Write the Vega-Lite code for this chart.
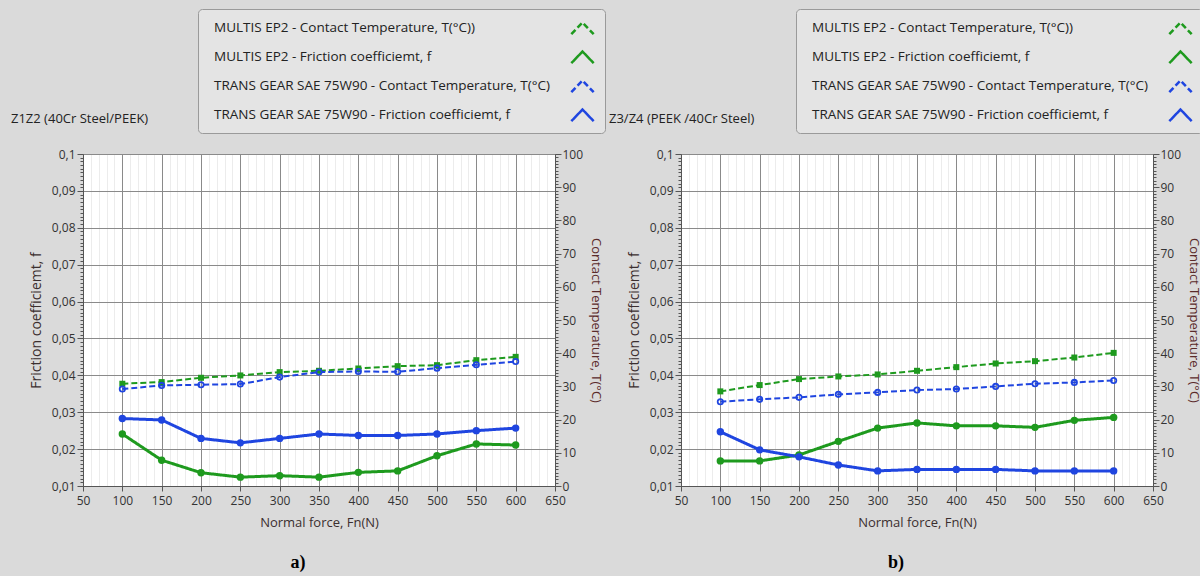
{
  "$schema": "https://vega.github.io/schema/vega-lite/v6.json",
  "background": "#dadada",
  "padding": {"left": 10, "top": 8, "right": 0, "bottom": 4},
  "config": {
    "view": {"fill": "white", "stroke": "#7a7a7a"},
    "font": "Open Sans",
    "axis": {"labelFont": "Open Sans", "labelFontSize": 12, "labelColor": "#333333", "titleFont": "Open Sans", "titleFontSize": 13, "titleFontWeight": "normal", "titleColor": "#3b2f2f", "domainColor": "#555555", "tickColor": "#555555", "labelOverlap": false, "labelFlush": false},
    "legend": {"labelLimit": 420}
  },
  "datasets": {
    "a": [
      {"x": 100, "s": "MULTIS EP2 - Contact Temperature, T(°C))", "v": 30.8},
      {"x": 150, "s": "MULTIS EP2 - Contact Temperature, T(°C))", "v": 31.3},
      {"x": 200, "s": "MULTIS EP2 - Contact Temperature, T(°C))", "v": 32.6},
      {"x": 250, "s": "MULTIS EP2 - Contact Temperature, T(°C))", "v": 33.3},
      {"x": 300, "s": "MULTIS EP2 - Contact Temperature, T(°C))", "v": 34.3},
      {"x": 350, "s": "MULTIS EP2 - Contact Temperature, T(°C))", "v": 34.7},
      {"x": 400, "s": "MULTIS EP2 - Contact Temperature, T(°C))", "v": 35.4},
      {"x": 450, "s": "MULTIS EP2 - Contact Temperature, T(°C))", "v": 36.1},
      {"x": 500, "s": "MULTIS EP2 - Contact Temperature, T(°C))", "v": 36.4},
      {"x": 550, "s": "MULTIS EP2 - Contact Temperature, T(°C))", "v": 37.9},
      {"x": 600, "s": "MULTIS EP2 - Contact Temperature, T(°C))", "v": 38.9},
      {"x": 100, "s": "MULTIS EP2 - Friction coefficiemt, f", "v": 0.0241},
      {"x": 150, "s": "MULTIS EP2 - Friction coefficiemt, f", "v": 0.0170},
      {"x": 200, "s": "MULTIS EP2 - Friction coefficiemt, f", "v": 0.0136},
      {"x": 250, "s": "MULTIS EP2 - Friction coefficiemt, f", "v": 0.0124},
      {"x": 300, "s": "MULTIS EP2 - Friction coefficiemt, f", "v": 0.0128},
      {"x": 350, "s": "MULTIS EP2 - Friction coefficiemt, f", "v": 0.0124},
      {"x": 400, "s": "MULTIS EP2 - Friction coefficiemt, f", "v": 0.0137},
      {"x": 450, "s": "MULTIS EP2 - Friction coefficiemt, f", "v": 0.0141},
      {"x": 500, "s": "MULTIS EP2 - Friction coefficiemt, f", "v": 0.0182},
      {"x": 550, "s": "MULTIS EP2 - Friction coefficiemt, f", "v": 0.0214},
      {"x": 600, "s": "MULTIS EP2 - Friction coefficiemt, f", "v": 0.0211},
      {"x": 100, "s": "TRANS GEAR SAE 75W90 - Contact Temperature, T(°C)", "v": 29.2},
      {"x": 150, "s": "TRANS GEAR SAE 75W90 - Contact Temperature, T(°C)", "v": 30.3},
      {"x": 200, "s": "TRANS GEAR SAE 75W90 - Contact Temperature, T(°C)", "v": 30.5},
      {"x": 250, "s": "TRANS GEAR SAE 75W90 - Contact Temperature, T(°C)", "v": 30.7},
      {"x": 300, "s": "TRANS GEAR SAE 75W90 - Contact Temperature, T(°C)", "v": 32.8},
      {"x": 350, "s": "TRANS GEAR SAE 75W90 - Contact Temperature, T(°C)", "v": 34.3},
      {"x": 400, "s": "TRANS GEAR SAE 75W90 - Contact Temperature, T(°C)", "v": 34.5},
      {"x": 450, "s": "TRANS GEAR SAE 75W90 - Contact Temperature, T(°C)", "v": 34.4},
      {"x": 500, "s": "TRANS GEAR SAE 75W90 - Contact Temperature, T(°C)", "v": 35.5},
      {"x": 550, "s": "TRANS GEAR SAE 75W90 - Contact Temperature, T(°C)", "v": 36.5},
      {"x": 600, "s": "TRANS GEAR SAE 75W90 - Contact Temperature, T(°C)", "v": 37.5},
      {"x": 100, "s": "TRANS GEAR SAE 75W90 - Friction coefficiemt, f", "v": 0.0283},
      {"x": 150, "s": "TRANS GEAR SAE 75W90 - Friction coefficiemt, f", "v": 0.0279},
      {"x": 200, "s": "TRANS GEAR SAE 75W90 - Friction coefficiemt, f", "v": 0.0229},
      {"x": 250, "s": "TRANS GEAR SAE 75W90 - Friction coefficiemt, f", "v": 0.0217},
      {"x": 300, "s": "TRANS GEAR SAE 75W90 - Friction coefficiemt, f", "v": 0.0229},
      {"x": 350, "s": "TRANS GEAR SAE 75W90 - Friction coefficiemt, f", "v": 0.0241},
      {"x": 400, "s": "TRANS GEAR SAE 75W90 - Friction coefficiemt, f", "v": 0.0237},
      {"x": 450, "s": "TRANS GEAR SAE 75W90 - Friction coefficiemt, f", "v": 0.0237},
      {"x": 500, "s": "TRANS GEAR SAE 75W90 - Friction coefficiemt, f", "v": 0.0241},
      {"x": 550, "s": "TRANS GEAR SAE 75W90 - Friction coefficiemt, f", "v": 0.0250},
      {"x": 600, "s": "TRANS GEAR SAE 75W90 - Friction coefficiemt, f", "v": 0.0257}
    ],
    "b": [
      {"x": 100, "s": "MULTIS EP2 - Contact Temperature, T(°C))", "v": 28.5},
      {"x": 150, "s": "MULTIS EP2 - Contact Temperature, T(°C))", "v": 30.4},
      {"x": 200, "s": "MULTIS EP2 - Contact Temperature, T(°C))", "v": 32.2},
      {"x": 250, "s": "MULTIS EP2 - Contact Temperature, T(°C))", "v": 33.0},
      {"x": 300, "s": "MULTIS EP2 - Contact Temperature, T(°C))", "v": 33.6},
      {"x": 350, "s": "MULTIS EP2 - Contact Temperature, T(°C))", "v": 34.7},
      {"x": 400, "s": "MULTIS EP2 - Contact Temperature, T(°C))", "v": 35.8},
      {"x": 450, "s": "MULTIS EP2 - Contact Temperature, T(°C))", "v": 36.9},
      {"x": 500, "s": "MULTIS EP2 - Contact Temperature, T(°C))", "v": 37.6},
      {"x": 550, "s": "MULTIS EP2 - Contact Temperature, T(°C))", "v": 38.7},
      {"x": 600, "s": "MULTIS EP2 - Contact Temperature, T(°C))", "v": 40.1},
      {"x": 100, "s": "MULTIS EP2 - Friction coefficiemt, f", "v": 0.0168},
      {"x": 150, "s": "MULTIS EP2 - Friction coefficiemt, f", "v": 0.0168},
      {"x": 200, "s": "MULTIS EP2 - Friction coefficiemt, f", "v": 0.0184},
      {"x": 250, "s": "MULTIS EP2 - Friction coefficiemt, f", "v": 0.0221},
      {"x": 300, "s": "MULTIS EP2 - Friction coefficiemt, f", "v": 0.0257},
      {"x": 350, "s": "MULTIS EP2 - Friction coefficiemt, f", "v": 0.0271},
      {"x": 400, "s": "MULTIS EP2 - Friction coefficiemt, f", "v": 0.0263},
      {"x": 450, "s": "MULTIS EP2 - Friction coefficiemt, f", "v": 0.0263},
      {"x": 500, "s": "MULTIS EP2 - Friction coefficiemt, f", "v": 0.0259},
      {"x": 550, "s": "MULTIS EP2 - Friction coefficiemt, f", "v": 0.0278},
      {"x": 600, "s": "MULTIS EP2 - Friction coefficiemt, f", "v": 0.0286},
      {"x": 100, "s": "TRANS GEAR SAE 75W90 - Contact Temperature, T(°C)", "v": 25.4},
      {"x": 150, "s": "TRANS GEAR SAE 75W90 - Contact Temperature, T(°C)", "v": 26.1},
      {"x": 200, "s": "TRANS GEAR SAE 75W90 - Contact Temperature, T(°C)", "v": 26.7},
      {"x": 250, "s": "TRANS GEAR SAE 75W90 - Contact Temperature, T(°C)", "v": 27.6},
      {"x": 300, "s": "TRANS GEAR SAE 75W90 - Contact Temperature, T(°C)", "v": 28.2},
      {"x": 350, "s": "TRANS GEAR SAE 75W90 - Contact Temperature, T(°C)", "v": 28.9},
      {"x": 400, "s": "TRANS GEAR SAE 75W90 - Contact Temperature, T(°C)", "v": 29.2},
      {"x": 450, "s": "TRANS GEAR SAE 75W90 - Contact Temperature, T(°C)", "v": 30.0},
      {"x": 500, "s": "TRANS GEAR SAE 75W90 - Contact Temperature, T(°C)", "v": 30.8},
      {"x": 550, "s": "TRANS GEAR SAE 75W90 - Contact Temperature, T(°C)", "v": 31.2},
      {"x": 600, "s": "TRANS GEAR SAE 75W90 - Contact Temperature, T(°C)", "v": 31.8},
      {"x": 100, "s": "TRANS GEAR SAE 75W90 - Friction coefficiemt, f", "v": 0.0247},
      {"x": 150, "s": "TRANS GEAR SAE 75W90 - Friction coefficiemt, f", "v": 0.0198},
      {"x": 200, "s": "TRANS GEAR SAE 75W90 - Friction coefficiemt, f", "v": 0.0179},
      {"x": 250, "s": "TRANS GEAR SAE 75W90 - Friction coefficiemt, f", "v": 0.0157},
      {"x": 300, "s": "TRANS GEAR SAE 75W90 - Friction coefficiemt, f", "v": 0.0141},
      {"x": 350, "s": "TRANS GEAR SAE 75W90 - Friction coefficiemt, f", "v": 0.0145},
      {"x": 400, "s": "TRANS GEAR SAE 75W90 - Friction coefficiemt, f", "v": 0.0145},
      {"x": 450, "s": "TRANS GEAR SAE 75W90 - Friction coefficiemt, f", "v": 0.0145},
      {"x": 500, "s": "TRANS GEAR SAE 75W90 - Friction coefficiemt, f", "v": 0.0141},
      {"x": 550, "s": "TRANS GEAR SAE 75W90 - Friction coefficiemt, f", "v": 0.0141},
      {"x": 600, "s": "TRANS GEAR SAE 75W90 - Friction coefficiemt, f", "v": 0.0141}
    ]
  },
  "resolve": {"scale": {"color": "independent", "strokeDash": "independent"}},
  "spacing": 2,
  "hconcat": [
    {
      "title": {"text": "a)", "orient": "bottom", "anchor": "middle", "dx": -10, "font": "Liberation Serif", "fontSize": 18, "fontWeight": "bold", "color": "#000000", "offset": 24},
      "vconcat": [
        {
          "title": {"text": "Z1Z2  (40Cr Steel/PEEK)", "anchor": "start", "dx": -18, "font": "Open Sans", "fontSize": 13, "fontWeight": "normal", "color": "#222222", "offset": 22},
          "width": 472,
          "height": 332,
          "data": {"name": "a"},
          "encoding": {
            "x": {"field": "x", "type": "quantitative", "scale": {"domain": [50, 650], "nice": false, "zero": false},
              "axis": {"title": "Normal force, Fn(N)", "tickCount": 60, "labelExpr": "datum.value % 50 === 0 ? datum.label : ''", "gridColor": {"condition": {"test": "datum.value % 50 === 0", "value": "#8a8a8a"}, "value": "#ececec"}, "tickSize": {"condition": {"test": "datum.value % 50 === 0", "value": 5}, "value": 0}, "labelPadding": 4, "titlePadding": 10}}
          },
          "layer": [
            {
              "transform": [{"filter": "indexof(datum.s, 'Friction') >= 0"}],
              "encoding": {"y": {"field": "v", "type": "quantitative", "scale": {"domain": [0.01, 0.1], "nice": false, "zero": false},
                "axis": {"title": "Friction coefficiemt, f", "titleFontSize": 14, "titleX": -40, "tickCount": 90, "labelExpr": "abs(datum.value*100 - round(datum.value*100)) < 0.001 ? replace(format(datum.value, '.2~f'), '.', ',') : ''", "gridColor": "#8a8a8a", "gridOpacity": {"condition": {"test": "abs(datum.value*100 - round(datum.value*100)) < 0.001", "value": 1}, "value": 0}, "tickSize": {"condition": {"test": "abs(datum.value*100 - round(datum.value*100)) < 0.001", "value": 6}, "value": 3}, "labelPadding": 2}}},
              "layer": [
                {"mark": {"type": "line", "strokeWidth": 3},
                  "encoding": {
                    "color": {"field": "s", "type": "nominal", "scale": {"domain": ["MULTIS EP2 - Contact Temperature, T(°C))", "MULTIS EP2 - Friction coefficiemt, f", "TRANS GEAR SAE 75W90 - Contact Temperature, T(°C)", "TRANS GEAR SAE 75W90 - Friction coefficiemt, f"], "range": ["#1e9a1e", "#1e9a1e", "#1f45e0", "#1f45e0"]},
                      "legend": {"title": null, "orient": "none", "legendX": 115, "legendY": -145, "fillColor": "#e4e4e4", "strokeColor": "#9a9a9a", "cornerRadius": 4, "padding": 6, "labelFont": "Open Sans", "labelFontSize": 13.5, "labelColor": "#222222", "labelLimit": 420, "symbolType": "M-1,0.6L0,-0.45L1,0.6", "symbolSize": 500, "symbolStrokeWidth": 2.5, "symbolFillColor": "transparent", "symbolOffset": 366, "labelOffset": -381, "rowPadding": 4}},
                    "strokeDash": {"field": "s", "type": "nominal", "scale": {"domain": ["MULTIS EP2 - Contact Temperature, T(°C))", "MULTIS EP2 - Friction coefficiemt, f", "TRANS GEAR SAE 75W90 - Contact Temperature, T(°C)", "TRANS GEAR SAE 75W90 - Friction coefficiemt, f"], "range": [[6, 3], [1, 0], [6, 3], [1, 0]]}}
                  }},
                {"transform": [{"filter": "datum.s === 'MULTIS EP2 - Friction coefficiemt, f'"}], "mark": {"type": "point", "filled": true, "size": 55, "opacity": 1, "color": "#1e9a1e"}},
                {"transform": [{"filter": "datum.s === 'TRANS GEAR SAE 75W90 - Friction coefficiemt, f'"}], "mark": {"type": "point", "filled": true, "size": 55, "opacity": 1, "color": "#1f45e0"}}
              ]
            },
            {
              "transform": [{"filter": "indexof(datum.s, 'Temperature') >= 0"}],
              "encoding": {"y": {"field": "v", "type": "quantitative", "scale": {"domain": [0, 100], "nice": false, "zero": false},
                "axis": {"orient": "right", "title": "Contact Temperature, T(°C)", "titleColor": "#5a2a2a", "tickCount": 100, "grid": false, "labelExpr": "datum.value % 10 === 0 ? datum.label : ''", "tickSize": {"condition": {"test": "datum.value % 10 === 0", "value": 6}, "value": 3}, "labelPadding": 1, "titlePadding": 6}}},
              "layer": [
                {"mark": {"type": "line", "strokeWidth": 2},
                  "encoding": {
                    "color": {"field": "s", "type": "nominal", "scale": {"domain": ["MULTIS EP2 - Contact Temperature, T(°C))", "MULTIS EP2 - Friction coefficiemt, f", "TRANS GEAR SAE 75W90 - Contact Temperature, T(°C)", "TRANS GEAR SAE 75W90 - Friction coefficiemt, f"], "range": ["#1e9a1e", "#1e9a1e", "#1f45e0", "#1f45e0"]},
                      "legend": {"title": null, "orient": "none", "legendX": 115, "legendY": -145, "fillColor": "#e4e4e4", "strokeColor": "#9a9a9a", "cornerRadius": 4, "padding": 6, "labelFont": "Open Sans", "labelFontSize": 13.5, "labelColor": "#222222", "labelLimit": 420, "symbolType": "M-1,0.6L0,-0.45L1,0.6", "symbolSize": 500, "symbolStrokeWidth": 2.5, "symbolFillColor": "transparent", "symbolOffset": 366, "labelOffset": -381, "rowPadding": 4}},
                    "strokeDash": {"field": "s", "type": "nominal", "scale": {"domain": ["MULTIS EP2 - Contact Temperature, T(°C))", "MULTIS EP2 - Friction coefficiemt, f", "TRANS GEAR SAE 75W90 - Contact Temperature, T(°C)", "TRANS GEAR SAE 75W90 - Friction coefficiemt, f"], "range": [[6, 3], [1, 0], [6, 3], [1, 0]]}}
                  }},
                {"transform": [{"filter": "datum.s === 'MULTIS EP2 - Contact Temperature, T(°C))'"}], "mark": {"type": "point", "shape": "square", "filled": true, "size": 36, "opacity": 1, "color": "#1e9a1e"}},
                {"transform": [{"filter": "datum.s === 'TRANS GEAR SAE 75W90 - Contact Temperature, T(°C)'"}], "mark": {"type": "point", "shape": "circle", "filled": false, "strokeWidth": 1.8, "size": 28, "opacity": 1, "color": "#1f45e0"}}
              ]
            }
          ],
          "resolve": {"scale": {"y": "independent"}}
        }
      ]
    },
    {
      "title": {"text": "b)", "orient": "bottom", "anchor": "middle", "dx": -10, "font": "Liberation Serif", "fontSize": 18, "fontWeight": "bold", "color": "#000000", "offset": 24},
      "vconcat": [
        {
          "title": {"text": "Z3/Z4  (PEEK /40Cr Steel)", "anchor": "start", "dx": -18, "font": "Open Sans", "fontSize": 13, "fontWeight": "normal", "color": "#222222", "offset": 22},
          "width": 472,
          "height": 332,
          "data": {"name": "b"},
          "encoding": {
            "x": {"field": "x", "type": "quantitative", "scale": {"domain": [50, 650], "nice": false, "zero": false},
              "axis": {"title": "Normal force, Fn(N)", "tickCount": 60, "labelExpr": "datum.value % 50 === 0 ? datum.label : ''", "gridColor": {"condition": {"test": "datum.value % 50 === 0", "value": "#8a8a8a"}, "value": "#ececec"}, "tickSize": {"condition": {"test": "datum.value % 50 === 0", "value": 5}, "value": 0}, "labelPadding": 4, "titlePadding": 10}}
          },
          "layer": [
            {
              "transform": [{"filter": "indexof(datum.s, 'Friction') >= 0"}],
              "encoding": {"y": {"field": "v", "type": "quantitative", "scale": {"domain": [0.01, 0.1], "nice": false, "zero": false},
                "axis": {"title": "Friction coefficiemt, f", "titleFontSize": 14, "titleX": -40, "tickCount": 90, "labelExpr": "abs(datum.value*100 - round(datum.value*100)) < 0.001 ? replace(format(datum.value, '.2~f'), '.', ',') : ''", "gridColor": "#8a8a8a", "gridOpacity": {"condition": {"test": "abs(datum.value*100 - round(datum.value*100)) < 0.001", "value": 1}, "value": 0}, "tickSize": {"condition": {"test": "abs(datum.value*100 - round(datum.value*100)) < 0.001", "value": 6}, "value": 3}, "labelPadding": 2}}},
              "layer": [
                {"mark": {"type": "line", "strokeWidth": 3},
                  "encoding": {
                    "color": {"field": "s", "type": "nominal", "scale": {"domain": ["MULTIS EP2 - Contact Temperature, T(°C))", "MULTIS EP2 - Friction coefficiemt, f", "TRANS GEAR SAE 75W90 - Contact Temperature, T(°C)", "TRANS GEAR SAE 75W90 - Friction coefficiemt, f"], "range": ["#1e9a1e", "#1e9a1e", "#1f45e0", "#1f45e0"]},
                      "legend": {"title": null, "orient": "none", "legendX": 115, "legendY": -145, "fillColor": "#e4e4e4", "strokeColor": "#9a9a9a", "cornerRadius": 4, "padding": 6, "labelFont": "Open Sans", "labelFontSize": 13.5, "labelColor": "#222222", "labelLimit": 420, "symbolType": "M-1,0.6L0,-0.45L1,0.6", "symbolSize": 500, "symbolStrokeWidth": 2.5, "symbolFillColor": "transparent", "symbolOffset": 366, "labelOffset": -381, "rowPadding": 4}},
                    "strokeDash": {"field": "s", "type": "nominal", "scale": {"domain": ["MULTIS EP2 - Contact Temperature, T(°C))", "MULTIS EP2 - Friction coefficiemt, f", "TRANS GEAR SAE 75W90 - Contact Temperature, T(°C)", "TRANS GEAR SAE 75W90 - Friction coefficiemt, f"], "range": [[6, 3], [1, 0], [6, 3], [1, 0]]}}
                  }},
                {"transform": [{"filter": "datum.s === 'MULTIS EP2 - Friction coefficiemt, f'"}], "mark": {"type": "point", "filled": true, "size": 55, "opacity": 1, "color": "#1e9a1e"}},
                {"transform": [{"filter": "datum.s === 'TRANS GEAR SAE 75W90 - Friction coefficiemt, f'"}], "mark": {"type": "point", "filled": true, "size": 55, "opacity": 1, "color": "#1f45e0"}}
              ]
            },
            {
              "transform": [{"filter": "indexof(datum.s, 'Temperature') >= 0"}],
              "encoding": {"y": {"field": "v", "type": "quantitative", "scale": {"domain": [0, 100], "nice": false, "zero": false},
                "axis": {"orient": "right", "title": "Contact Temperature, T(°C)", "titleColor": "#5a2a2a", "tickCount": 100, "grid": false, "labelExpr": "datum.value % 10 === 0 ? datum.label : ''", "tickSize": {"condition": {"test": "datum.value % 10 === 0", "value": 6}, "value": 3}, "labelPadding": 1, "titlePadding": 6}}},
              "layer": [
                {"mark": {"type": "line", "strokeWidth": 2},
                  "encoding": {
                    "color": {"field": "s", "type": "nominal", "scale": {"domain": ["MULTIS EP2 - Contact Temperature, T(°C))", "MULTIS EP2 - Friction coefficiemt, f", "TRANS GEAR SAE 75W90 - Contact Temperature, T(°C)", "TRANS GEAR SAE 75W90 - Friction coefficiemt, f"], "range": ["#1e9a1e", "#1e9a1e", "#1f45e0", "#1f45e0"]},
                      "legend": {"title": null, "orient": "none", "legendX": 115, "legendY": -145, "fillColor": "#e4e4e4", "strokeColor": "#9a9a9a", "cornerRadius": 4, "padding": 6, "labelFont": "Open Sans", "labelFontSize": 13.5, "labelColor": "#222222", "labelLimit": 420, "symbolType": "M-1,0.6L0,-0.45L1,0.6", "symbolSize": 500, "symbolStrokeWidth": 2.5, "symbolFillColor": "transparent", "symbolOffset": 366, "labelOffset": -381, "rowPadding": 4}},
                    "strokeDash": {"field": "s", "type": "nominal", "scale": {"domain": ["MULTIS EP2 - Contact Temperature, T(°C))", "MULTIS EP2 - Friction coefficiemt, f", "TRANS GEAR SAE 75W90 - Contact Temperature, T(°C)", "TRANS GEAR SAE 75W90 - Friction coefficiemt, f"], "range": [[6, 3], [1, 0], [6, 3], [1, 0]]}}
                  }},
                {"transform": [{"filter": "datum.s === 'MULTIS EP2 - Contact Temperature, T(°C))'"}], "mark": {"type": "point", "shape": "square", "filled": true, "size": 36, "opacity": 1, "color": "#1e9a1e"}},
                {"transform": [{"filter": "datum.s === 'TRANS GEAR SAE 75W90 - Contact Temperature, T(°C)'"}], "mark": {"type": "point", "shape": "circle", "filled": false, "strokeWidth": 1.8, "size": 28, "opacity": 1, "color": "#1f45e0"}}
              ]
            }
          ],
          "resolve": {"scale": {"y": "independent"}}
        }
      ]
    }
  ]
}
